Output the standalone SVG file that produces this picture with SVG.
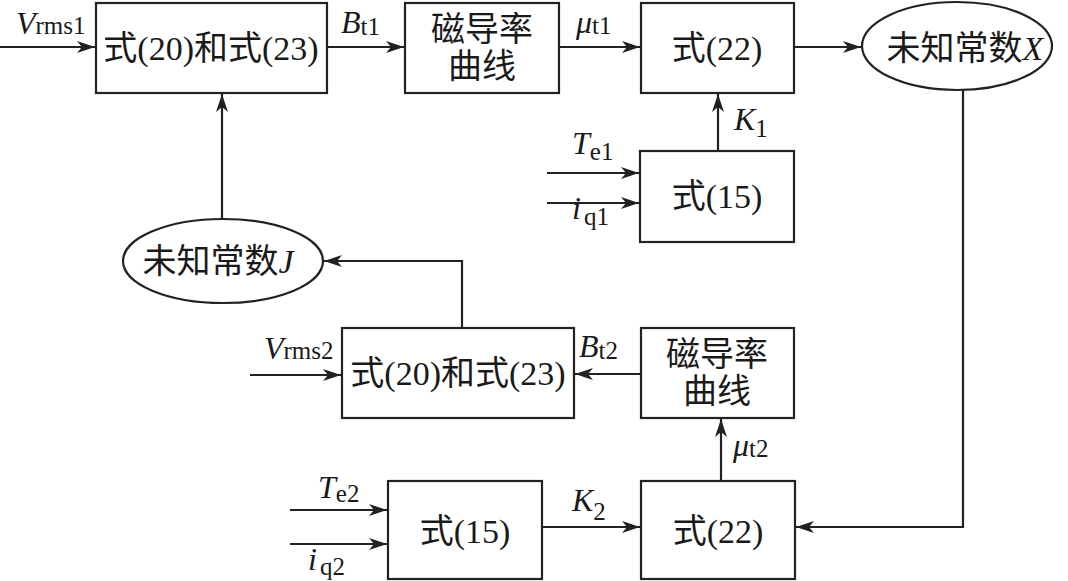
<svg xmlns="http://www.w3.org/2000/svg" width="1068" height="581" viewBox="0 0 1068 581">
<style>
.box{fill:#fff;stroke:#222;stroke-width:2.2}
.ln{fill:none;stroke:#222;stroke-width:2.2;marker-end:url(#ah)}
.t{font-family:"Liberation Serif","Noto Sans CJK SC",serif;font-size:34px;fill:#1a1a1a;text-anchor:middle}
.l{font-family:"Liberation Serif","Noto Sans CJK SC",serif;font-size:32px;fill:#1a1a1a;font-style:italic}
.s{font-style:normal;font-size:25px}
</style>
<defs>
<marker id="ah" markerUnits="userSpaceOnUse" markerWidth="20" markerHeight="14" refX="18" refY="6" orient="auto">
<path d="M0,0 L18,6 L0,12 L5,6 z" fill="#222"/>
</marker>
</defs>
<rect width="1068" height="581" fill="#fff"/>
<g id="connectors">
<path class="ln" d="M0,47 H95"/>
<path class="ln" d="M327,47 H404"/>
<path class="ln" d="M559,47 H640"/>
<path class="ln" d="M794,47 H861"/>
<path class="ln" d="M963,90 V527 H796"/>
<path class="ln" d="M718,151 V94"/>
<path class="ln" d="M547,173 H639"/>
<path class="ln" d="M547,203 H639"/>
<path class="ln" d="M222,219 V94"/>
<path class="ln" d="M462,328 V261 H324"/>
<path class="ln" d="M250,375 H341"/>
<path class="ln" d="M641,374 H575"/>
<path class="ln" d="M721,481 V419"/>
<path class="ln" d="M290,510 H387"/>
<path class="ln" d="M290,544 H387"/>
<path class="ln" d="M542,527 H640"/>
</g>
<g id="eq20_23_top"><rect class="box" x="96" y="3" width="231" height="90"/><text class="t" x="211" y="60">式(20)和式(23)</text></g>
<g id="curve_top"><rect class="box" x="405" y="3" width="154" height="90"/><text class="t" x="482" y="41">磁导率</text><text class="t" x="482" y="78">曲线</text></g>
<g id="eq22_top"><rect class="box" x="641" y="3" width="153" height="90"/><text class="t" x="717" y="60">式(22)</text></g>
<g id="constX"><ellipse class="box" cx="957" cy="46" rx="95" ry="44"/><text class="t" x="965" y="60">未知常数<tspan font-style="italic">X</tspan></text></g>
<g id="eq15_top"><rect class="box" x="640" y="151" width="154" height="91"/><text class="t" x="717" y="208">式(15)</text></g>
<g id="constJ"><ellipse class="box" cx="223" cy="261" rx="100" ry="42"/><text class="t" x="218" y="273">未知常数<tspan font-style="italic">J</tspan></text></g>
<g id="eq20_23_bot"><rect class="box" x="342" y="328" width="232" height="90"/><text class="t" x="458" y="385">式(20)和式(23)</text></g>
<g id="curve_bot"><rect class="box" x="641" y="328" width="153" height="90"/><text class="t" x="717" y="366">磁导率</text><text class="t" x="717" y="403">曲线</text></g>
<g id="eq15_bot"><rect class="box" x="388" y="481" width="154" height="98"/><text class="t" x="465" y="543">式(15)</text></g>
<g id="eq22_bot"><rect class="box" x="641" y="481" width="154" height="98"/><text class="t" x="718" y="543">式(22)</text></g>
<g id="labels">
<text class="l" x="16" y="34">V<tspan class="s">rms1</tspan></text>
<text class="l" x="341" y="33">B<tspan class="s" dy="2">t1</tspan></text>
<text class="l" x="576" y="33">μ<tspan class="s" dy="1">t1</tspan></text>
<text class="l" x="734" y="130">K<tspan class="s" dy="7">1</tspan></text>
<text class="l" x="572" y="154">T<tspan class="s" dy="6">e1</tspan></text>
<text class="l" x="572" y="219">i<tspan class="s" dx="3" dy="6">q1</tspan></text>
<text class="l" x="264" y="359">V<tspan class="s">rms2</tspan></text>
<text class="l" x="579" y="357">B<tspan class="s" dy="2">t2</tspan></text>
<text class="l" x="733" y="456">μ<tspan class="s" dy="1">t2</tspan></text>
<text class="l" x="318" y="498">T<tspan class="s" dy="4">e2</tspan></text>
<text class="l" x="308" y="570">i<tspan class="s" dx="3" dy="5">q2</tspan></text>
<text class="l" x="572" y="511">K<tspan class="s" dy="9">2</tspan></text>
</g>
</svg>
